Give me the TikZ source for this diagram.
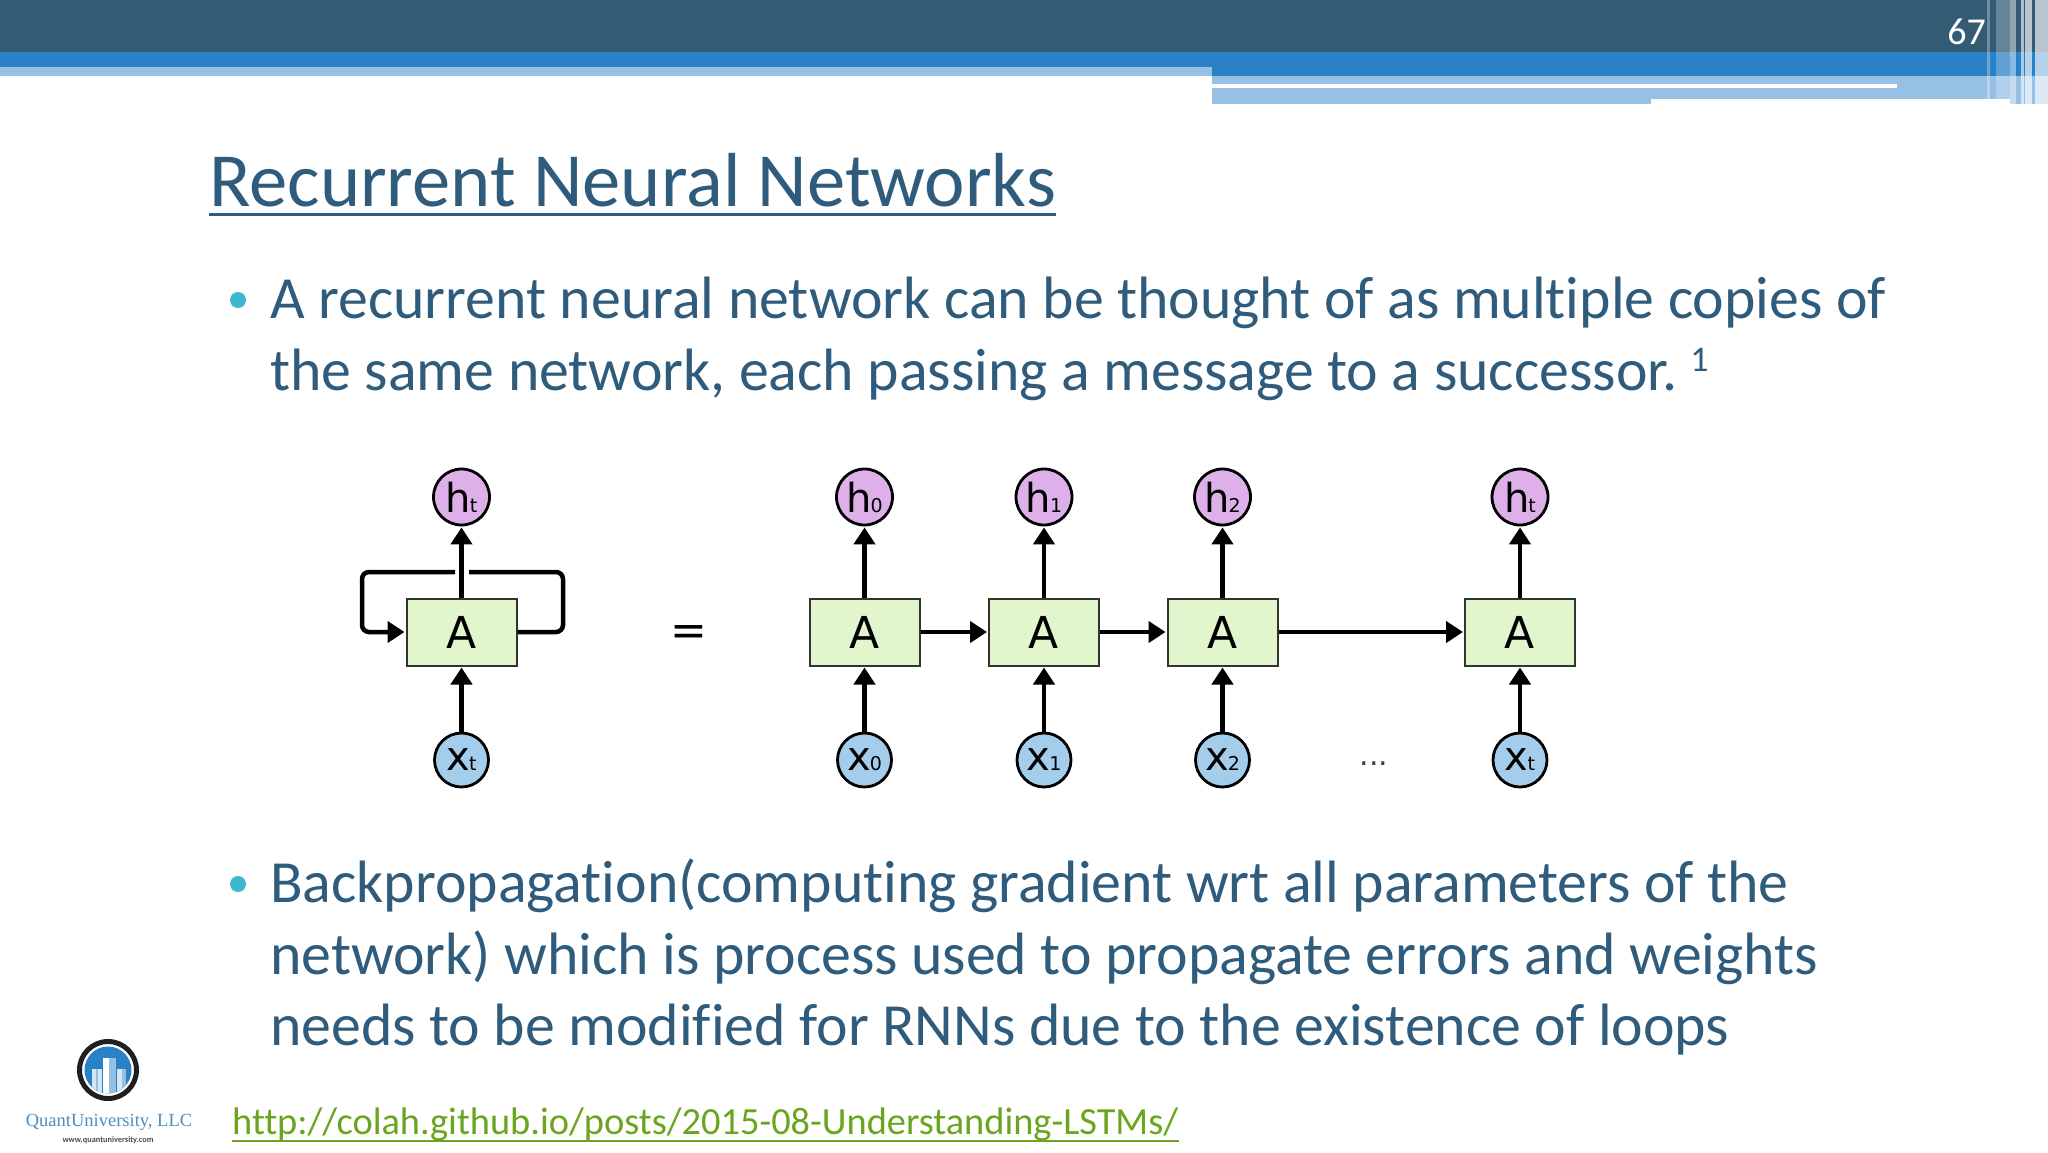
\documentclass[tikz,border=0pt]{standalone}
\usepackage{fontspec}
\setmainfont{Carlito}[Ligatures=NoCommon]
\newfontfamily\logofont{Liberation Serif}
\newfontfamily\diafont{DejaVu Sans}
\usetikzlibrary{arrows.meta}
\definecolor{darkbar}{HTML}{335C74}
\definecolor{midbar}{HTML}{2A82C6}
\definecolor{lightbar}{HTML}{97C1E4}
\definecolor{txt}{HTML}{2F5C7C}
\definecolor{bul}{HTML}{3DB7CE}
\definecolor{lnk}{HTML}{6AA51E}
\definecolor{boxfill}{HTML}{E2F6CE}
\definecolor{boxline}{HTML}{33332E}
\definecolor{hfill}{HTML}{DEB0EA}
\definecolor{xfill}{HTML}{A4CDEB}
\definecolor{lblue}{HTML}{4A8FBF}
\tikzset{
 body/.style={anchor=base west,inner sep=0pt,text=txt,font=\fontsize{59.8}{60}\selectfont},
 cell/.style={draw=boxline,line width=2pt,fill=boxfill,minimum width=110pt,minimum height=67pt,inner sep=0pt,font=\diafont\fontsize{44}{44}\selectfont},
 hcirc/.style={circle,draw=black,line width=2.8pt,fill=hfill,minimum size=56pt,inner sep=0pt},
 xcirc/.style={circle,draw=black,line width=2.8pt,fill=xfill,minimum size=54pt,inner sep=0pt},
 arr/.style={line width=4.5pt,-{Triangle[length=17pt,width=21pt]},shorten >=1pt},
 bullet/.style={circle,fill=bul,minimum size=16pt,inner sep=0pt},
 stripe/.style={fill=white,opacity=#1}
}
\newcommand{\lab}[2]{{\diafont\fontsize{40}{40}\selectfont #1\kern-1pt\fontsize{19}{19}\selectfont #2}}
\begin{document}
\begin{tikzpicture}[x=1pt,y=-1pt]
\useasboundingbox (0,0) rectangle (2048,1152);
\fill[white] (0,0) rectangle (2048,1152);
% header bars
\fill[lightbar] (0,67) rectangle (1212,76);
\fill[lightbar] (1212,76) rectangle (2048,104);
\fill[midbar] (0,52) rectangle (1212,67);
\fill[midbar] (1212,52) rectangle (2048,76);
\fill[darkbar] (0,0) rectangle (2048,52);
\fill[white] (1212,83.5) rectangle (1897,88);
\fill[white] (1651,99) rectangle (2010,104);
% right stripes
\fill[stripe=.3] (1987,0) rectangle (1990,104);
\fill[stripe=.25] (1996,0) rectangle (2010,99);
\fill[stripe=.45] (2010,0) rectangle (2016,104);
\fill[stripe=.6] (2021,0) rectangle (2024,104);
\fill[stripe=.65] (2025,0) rectangle (2032,104);
\fill[stripe=.65] (2035,0) rectangle (2048,104);
\node[anchor=east,inner sep=0pt,text=white,font=\fontsize{38}{38}\selectfont] (num) at (1986,32) {67};
% title
\node[anchor=base west,inner sep=0pt,text=txt,font=\fontsize{76.6}{77}\selectfont] (title) at (209,206) {Recurrent Neural Networks};
\coordinate (tl) at ([yshift=-8pt]title.base west);
\coordinate (tr) at ([yshift=-8pt]title.base east);
\draw[txt,line width=3pt] (tl) -- (tr);
% body
\node[bullet] (b1) at (238,300) {};
\node[body] (l1) at (270,318) {A recurrent neural network can be thought of as multiple copies of};
\node[body] (l2) at (270,390) {the same network, each passing a message to a successor. \kern-5pt\raisebox{19pt}{\fontsize{36}{36}\selectfont 1}};
\node[bullet] (b2) at (238,884) {};
\node[body] (l3) at (270,902) {Backpropagation(computing gradient wrt all parameters of the};
\node[body] (l4) at (270,974) {network) which is process used to propagate errors and weights};
\node[body] (l5) at (270,1045) {needs to be modified for RNNs due to the existence of loops};
% link
\node[anchor=base west,inner sep=0pt,text=lnk,font=\fontsize{38.4}{39}\selectfont] (link) at (232,1134) {http://colah.github.io/posts/2015-08-Understanding-LSTMs/};
\coordinate (ll) at ([yshift=-7pt]link.base west);
\coordinate (lr) at ([yshift=-7pt]link.base east);
\draw[lnk,line width=2.4pt] (ll) -- (lr);
% left diagram
\node[cell] (A) at (461.5,632) {A};
\node[hcirc] (hA) at (461.5,497) {\lab{h}{t}};
\node[xcirc] (xA) at (461.5,760) {\lab{x}{t}};
\coordinate (ltop) at (362,572);
\coordinate (rtop) at (563,572);
\coordinate (gl) at (455,572);
\coordinate (gr) at (469,572);
\draw[line width=4.5pt,rounded corners=7pt] (A.east) -- (rtop |- A.east) -- (rtop) -- (gr);
\draw[arr,rounded corners=7pt] (gl) -- (ltop) -- (ltop |- A.west) -- (A.west);
\draw[arr] (A) -- (hA);
\draw[arr] (xA) -- (A);
\node[inner sep=0pt,font=\diafont\fontsize{44}{44}\selectfont] (eq) at (689,635) {=};
% right diagram
\node[cell] (A0) at (864.5,632) {A};
\node[cell] (A1) at (1044,632) {A};
\node[cell] (A2) at (1222.5,632) {A};
\node[cell] (At) at (1520,632) {A};
\node[hcirc] (h0) at (864.5,497) {\lab{h}{0}};
\node[hcirc] (h1) at (1044,497) {\lab{h}{1}};
\node[hcirc] (h2) at (1222.5,497) {\lab{h}{2}};
\node[hcirc] (ht) at (1520,497) {\lab{h}{t}};
\node[xcirc] (x0) at (864.5,760) {\lab{x}{0}};
\node[xcirc] (x1) at (1044,760) {\lab{x}{1}};
\node[xcirc] (x2) at (1222.5,760) {\lab{x}{2}};
\node[xcirc] (xt) at (1520,760) {\lab{x}{t}};
\foreach \i in {0,1,2,t}{
 \draw[arr] (A\i) -- (h\i);
 \draw[arr] (x\i) -- (A\i);
}
\draw[arr] (A0) -- (A1);
\draw[arr] (A1) -- (A2);
\draw[arr] (A2) -- (At);
\node[inner sep=0pt,text=black!75,font=\diafont\fontsize{30}{30}\selectfont] (dots) at (1374,764) {...};
% logo
\node[circle,draw=black!88,line width=5pt,fill=white,minimum size=57pt,inner sep=0pt] (ring) at (108,1070) {};
\fill[midbar] (ring.center) circle (23.5pt);
\begin{scope}
\clip (ring.center) circle (23.5pt);
\fill[white!80!midbar] (92,1069) rectangle (102,1100);
\fill[white] (103,1058) rectangle (116,1100);
\fill[white!80!midbar] (117,1069) rectangle (126,1100);
\fill[midbar!50] (109,1058) rectangle (116,1100);
\fill[midbar!50] (96,1069) rectangle (98,1100);
\fill[midbar!50] (122,1069) rectangle (126,1100);
\end{scope}
\node[inner sep=0pt,text=lblue,font=\logofont\fontsize{18.5}{19}\selectfont] (qu) at (109,1122) {QuantUniversity, LLC};
\node[inner sep=0pt,text=black!70,font=\fontsize{8.3}{8.3}\selectfont\bfseries] (www) at (108,1140) {www.quantuniversity.com};
\end{tikzpicture}
\end{document}
